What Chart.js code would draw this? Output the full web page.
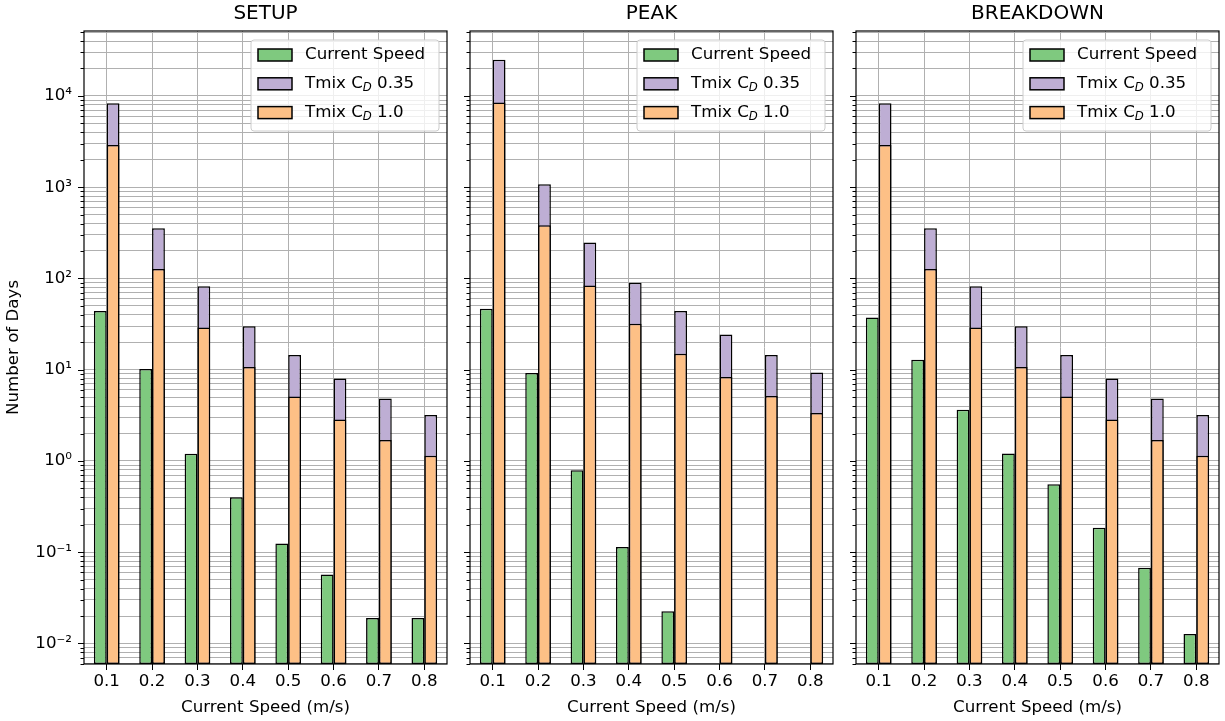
<!DOCTYPE html>
<html>
<head>
<meta charset="utf-8">
<script src="https://cdn.jsdelivr.net/npm/chart.js@4"></script>
<style>
  html, body { margin: 0; padding: 0; background: #fff; }
  #wrap { position: relative; width: 1225px; height: 721px; }
  #wrap canvas { position: absolute; left: 0; top: 0; }
</style>
</head>
<body>
<div id="wrap">
  <canvas id="setup" width="1225" height="721"></canvas>
  <canvas id="peak" width="1225" height="721"></canvas>
  <canvas id="breakdown" width="1225" height="721"></canvas>
</div>
<script>
// categories and labels
const speeds = ['0.1', '0.2', '0.3', '0.4', '0.5', '0.6', '0.7', '0.8'];
const panelTitles = ['SETUP', 'PEAK', 'BREAKDOWN'];
const legendLabels = ['Current Speed', 'Tmix C_D 0.35', 'Tmix C_D 1.0'];
const xTitle = 'Current Speed (m/s)';
const yTitle = 'Number of Days';
const yMajorTicks = [0.01, 0.1, 1, 10, 100, 1000, 10000];
const yTickLabels = ['10⁻²', '10⁻¹', '10⁰', '10¹', '10²', '10³', '10⁴'];

// values
const setupCurrent = [44, 10.2, 1.2, 0.40, 0.125, 0.057, 0.019, 0.019];
const setupTmix035 = [8300, 355, 82, 30, 14.5, 8.0, 4.85, 3.2];
const setupTmix10 = [2900, 127, 29, 10.7, 5.1, 2.85, 1.7, 1.14];

const peakCurrent = [46.5, 9.2, 0.79, 0.114, 0.0225, null, null, null];
const peakTmix035 = [25000, 1080, 248, 89.5, 44, 24.3, 14.5, 9.3];
const peakTmix10 = [8500, 382, 84, 32, 15, 8.3, 5.15, 3.35];

const breakdownCurrent = [37.4, 12.9, 3.64, 1.21, 0.555, 0.185, 0.0675, 0.0127];
const breakdownTmix035 = [8300, 355, 82, 30, 14.5, 8.0, 4.85, 3.2];
const breakdownTmix10 = [2900, 127, 29, 10.7, 5.1, 2.85, 1.7, 1.14];

const colors = ['#7fc97f', '#beaed4', '#fdc086'];
const FONT = '"DejaVu Sans"';
const FS = 16.67;

const yMin = 0.00596, yMax = 51500;
const panelLeft = [84, 470, 856];
const panelWidth = 363;
const plotBottom = 664;

function buildYTicks() {
  const ticks = [];
  for (let e = -3; e <= 5; e++) {
    for (let s = 1; s <= 9; s++) {
      const v = +(s * Math.pow(10, e)).toPrecision(3);
      if (v >= yMin && v <= yMax) ticks.push({ value: v, major: s === 1 });
    }
  }
  return ticks;
}

function yLabel(v) {
  const i = yMajorTicks.findIndex(m => Math.abs(m - v) / m < 1e-6);
  return i >= 0 ? yTickLabels[i] : '';
}

// black frame + y tick marks (major longer than minor)
const framePlugin = {
  id: 'frame',
  afterDatasetsDraw(chart) {
    const { ctx, chartArea: a } = chart;
    const y = chart.scales.y;
    ctx.save();
    ctx.strokeStyle = '#000';
    ctx.lineWidth = 1;
    y.ticks.forEach(t => {
      const py = Math.round(y.getPixelForValue(t.value)) + 0.5;
      const len = t.major ? 6 : 3.5;
      ctx.beginPath();
      ctx.moveTo(a.left - len, py);
      ctx.lineTo(a.left, py);
      ctx.stroke();
    });
    ctx.lineWidth = 1.2;
    ctx.strokeRect(a.left, a.top, a.right - a.left, a.bottom - a.top);
    ctx.restore();
  }
};

function drawRich(ctx, text, x, y) {
  const parts = text.split(/_(\w)/);
  let cx = x;
  parts.forEach((p, k) => {
    if (k % 2 === 1) {
      ctx.font = `italic 11.7px ${FONT}`;
      ctx.fillText(p, cx, y + 4);
    } else {
      ctx.font = `${FS}px ${FONT}`;
      ctx.fillText(p, cx, y);
    }
    cx += ctx.measureText(p).width;
  });
}

const legendPlugin = {
  id: 'mplLegend',
  afterDraw(chart) {
    const { ctx, chartArea: a } = chart;
    const w = 188, h = 91;
    const x0 = a.right - 8 - w, y0 = a.top + 9;
    ctx.save();
    ctx.beginPath();
    ctx.roundRect(x0, y0, w, h, 3);
    ctx.fillStyle = 'rgba(255,255,255,0.8)';
    ctx.fill();
    ctx.strokeStyle = '#cccccc';
    ctx.lineWidth = 1;
    ctx.stroke();
    ctx.textBaseline = 'middle';
    ctx.textAlign = 'left';
    legendLabels.forEach((lab, i) => {
      const cy = y0 + 15 + i * 28.8;
      ctx.fillStyle = colors[i];
      ctx.fillRect(x0 + 7, cy - 6, 34, 12);
      ctx.strokeStyle = '#000';
      ctx.lineWidth = 1.5;
      ctx.strokeRect(x0 + 7, cy - 6, 34, 12);
      ctx.fillStyle = '#000';
      drawRich(ctx, lab, x0 + 54, cy);
    });
    ctx.restore();
  }
};

function makePanel(i, id, current, tmix035, tmix10) {
  const showY = i === 0;
  const yAxisW = showY ? 84 : 8;
  return new Chart(document.getElementById(id), {
    type: 'bar',
    data: {
      labels: speeds,
      datasets: [
        { label: legendLabels[0], data: current, stack: 'speed', order: 0, backgroundColor: colors[0] },
        { label: legendLabels[1], data: tmix035, stack: 'tmix', order: 2, backgroundColor: colors[1] },
        { label: legendLabels[2], data: tmix10, stack: 'tmix', order: 1, backgroundColor: colors[2] }
      ]
    },
    options: {
      responsive: false,
      animation: false,
      layout: {
        padding: { left: panelLeft[i] - yAxisW, right: 1225 - panelLeft[i] - panelWidth, top: 0, bottom: 0 }
      },
      datasets: {
        bar: {
          borderColor: '#000',
          borderWidth: 1.5,
          borderSkipped: false,
          categoryPercentage: 0.565,
          barPercentage: 1
        }
      },
      plugins: {
        legend: { display: false },
        tooltip: { enabled: false },
        title: {
          display: true,
          text: panelTitles[i],
          fullSize: false,
          color: '#000',
          font: { family: FONT, size: 20, weight: 'normal' },
          padding: { top: 1.5, bottom: 5.5 }
        }
      },
      scales: {
        x: {
          type: 'category',
          stacked: true,
          offset: true,
          grid: { offset: false, color: '#b0b0b0', lineWidth: 1, drawTicks: true, tickLength: 6, tickColor: '#000' },
          border: { display: false },
          ticks: { color: '#000', font: { family: FONT, size: FS }, padding: 2, maxRotation: 0, autoSkip: false },
          title: {
            display: true,
            text: xTitle,
            color: '#000',
            font: { family: FONT, size: FS },
            padding: { top: 0, bottom: 3.5 }
          },
          afterFit(s) { s.height = 721 - plotBottom; }
        },
        y: {
          type: 'logarithmic',
          stacked: false,
          min: yMin,
          max: yMax,
          grid: { color: '#b0b0b0', lineWidth: 1, drawTicks: false },
          border: { display: false },
          afterBuildTicks(s) { s.ticks = buildYTicks(); },
          ticks: {
            autoSkip: false,
            padding: 12,
            color: '#000',
            font: { family: FONT, size: FS },
            callback: (v) => showY ? yLabel(v) : ''
          },
          title: {
            display: showY,
            text: yTitle,
            color: '#000',
            font: { family: FONT, size: FS },
            padding: { top: 4, bottom: 0 }
          },
          afterFit(s) { s.width = yAxisW; }
        }
      }
    },
    plugins: [framePlugin, legendPlugin]
  });
}

makePanel(0, 'setup', setupCurrent, setupTmix035, setupTmix10);
makePanel(1, 'peak', peakCurrent, peakTmix035, peakTmix10);
makePanel(2, 'breakdown', breakdownCurrent, breakdownTmix035, breakdownTmix10);
</script>
</body>
</html>
